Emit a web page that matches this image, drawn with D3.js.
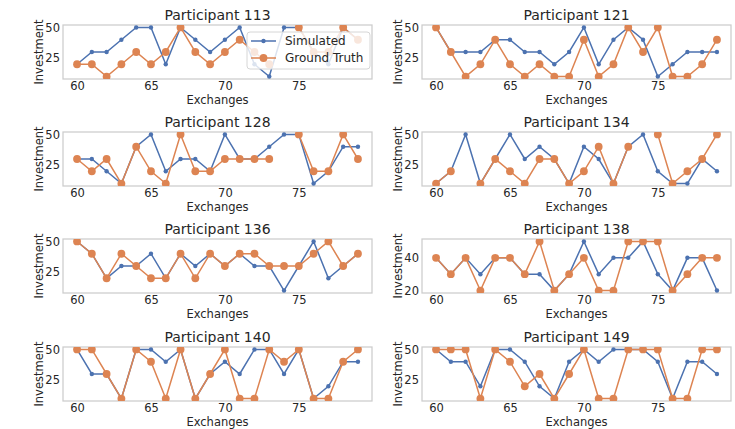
<!DOCTYPE html>
<html>
<head>
<meta charset="utf-8">
<script src="https://cdn.jsdelivr.net/npm/d3@7"></script>
<style>
  body { margin: 0; background: #fff; }
  text { font-family: "DejaVu Sans", sans-serif; fill: #262626; }
</style>
</head>
<body>
<script>
var exchanges = [60, 61, 62, 63, 64, 65, 66, 67, 68, 69, 70, 71, 72, 73, 74, 75, 76, 77, 78, 79];
var xTicks = [60, 65, 70, 75];

// simulated vs ground truth investment, null = missing
var sim113 = [20, 30, 30, 40, 50, 50, 20, 50, 40, 30, 40, 50, 20, 10, 50, 50, 30, 20, 50, 40];
var gt113  = [20, 20, 10, 20, 30, 20, 30, 50, 30, 20, 30, 40, 30, 20, null, 50, 30, 30, 50, 40];
var sim121 = [50, 30, 30, 30, 40, 40, 30, 30, 20, 30, 50, 20, 40, 50, 40, 10, 20, 30, 30, 30];
var gt121  = [50, 30, 10, 20, 40, 20, 10, 20, 10, 10, 40, 10, 20, 50, 30, 50, 10, 10, 20, 40];
var sim128 = [30, 30, 20, 10, 40, 50, 20, 30, 30, 20, 50, 30, 30, 40, 50, 50, 10, 20, 40, 40];
var gt128  = [30, 20, 30, 10, 40, 20, 10, 50, 20, 20, 30, 30, 30, 30, null, 50, 20, 20, 50, 30];
var sim134 = [10, 20, 50, 10, 30, 50, 30, 40, 30, 10, 40, 30, 10, 40, 50, 20, 10, 10, 30, 20];
var gt134  = [10, 20, null, 10, 30, 20, 10, 30, 30, 10, 20, 40, 10, 40, null, 50, 10, 20, 30, 50];
var sim136 = [50, 40, 20, 30, 30, 40, 20, 40, 30, 40, 30, 40, 30, 30, 10, 30, 50, 20, 30, 40];
var gt136  = [50, 40, 20, 40, 30, 20, 20, 40, 20, 40, 30, 40, 40, 30, 30, 30, 40, 50, 30, 40];
var sim138 = [40, 30, 40, 30, 40, 40, 30, 30, 20, 30, 50, 30, 40, 40, 50, 30, 20, 40, 40, 20];
var gt138  = [40, 30, 40, 20, 40, 40, 30, 50, 20, 30, 40, 20, 20, 50, 50, 50, 20, 30, 40, 40];
var sim140 = [50, 30, 30, 10, 50, 50, 40, 50, 10, 30, 40, 30, 50, 50, 30, 50, 10, 20, 40, 40];
var gt140  = [50, 50, 30, 10, 50, 40, 10, 50, 10, 30, 50, 10, 10, 50, 40, 50, 10, 10, 40, 50];
var sim149 = [50, 40, 40, 20, 50, 50, 40, 20, 10, 40, 50, 40, 50, 50, 50, 40, 10, 40, 40, 30];
var gt149  = [50, 50, 50, 10, 50, 40, 20, 30, 10, 30, 50, 10, 10, 50, 50, 50, 10, 10, 50, 50];

var participants = ['113', '121', '128', '134', '136', '138', '140', '149'];
var simSeries = [sim113, sim121, sim128, sim134, sim136, sim138, sim140, sim149];
var gtSeries = [gt113, gt121, gt128, gt134, gt136, gt138, gt140, gt149];
var yTickSets = [[25, 50], [25, 50], [25, 50], [25, 50], [25, 50], [20, 40], [25, 50], [25, 50]];
var legendLabels = ['Simulated', 'Ground Truth'];

var width = 735, height = 429;
var blue = '#4c72b0', orange = '#dd8452';
var colLeft = [63, 422], colWidth = 309;
var rowTop = [25, 132, 239, 347], rowHeight = 54;

var svg = d3.select('body').append('svg')
    .attr('width', width)
    .attr('height', height);

function drawPanel(i) {
    var col = i % 2, row = Math.floor(i / 2);
    var left = colLeft[col], top = rowTop[row];
    var sim = simSeries[i], gt = gtSeries[i];

    var x = d3.scaleLinear().domain([59.05, 79.95]).range([left, left + colWidth]);
    var all = sim.concat(gt).filter(function (d) { return d != null; });
    var lo = d3.min(all), hi = d3.max(all), pad = (hi - lo) * 0.05;
    var y = d3.scaleLinear().domain([lo - pad, hi + pad]).range([top + rowHeight, top]);

    var g = svg.append('g');
    var clipId = 'clip' + i;
    g.append('clipPath').attr('id', clipId)
        .append('rect')
        .attr('x', left).attr('y', top)
        .attr('width', colWidth).attr('height', rowHeight);

    // frame
    g.append('rect')
        .attr('x', left).attr('y', top)
        .attr('width', colWidth).attr('height', rowHeight)
        .attr('fill', 'none')
        .attr('stroke', '#cccccc')
        .attr('stroke-width', 1.25);

    // x axis
    var xAxis = g.append('g')
        .attr('transform', 'translate(0,' + (top + rowHeight) + ')')
        .call(d3.axisBottom(x).tickValues(xTicks).tickSize(0).tickPadding(3).tickFormat(d3.format('d')));
    xAxis.select('.domain').remove();
    xAxis.selectAll('text').style('font-size', '11.5px').attr('fill', '#262626').style('font-family', '"DejaVu Sans", sans-serif');

    // y axis
    var yAxis = g.append('g')
        .attr('transform', 'translate(' + left + ',0)')
        .call(d3.axisLeft(y).tickValues(yTickSets[i]).tickSize(0).tickPadding(3));
    yAxis.select('.domain').remove();
    yAxis.selectAll('text').style('font-size', '11.5px').attr('fill', '#262626').style('font-family', '"DejaVu Sans", sans-serif');

    g.append('text')
        .attr('x', left + colWidth / 2)
        .attr('y', top - 5)
        .attr('text-anchor', 'middle')
        .style('font-size', '14px')
        .text('Participant ' + participants[i]);

    g.append('text')
        .attr('x', left + colWidth / 2)
        .attr('y', top + rowHeight + 25)
        .attr('text-anchor', 'middle')
        .style('font-size', '11.5px')
        .text('Exchanges');

    g.append('text')
        .attr('transform', 'translate(' + (left - 24) + ',' + (top + rowHeight / 2) + ') rotate(-90)')
        .attr('text-anchor', 'middle')
        .attr('dy', '0.35em')
        .style('font-size', '11.5px')
        .text('Investment');

    var plot = g.append('g').attr('clip-path', 'url(#' + clipId + ')');

    function series(values, color, r, lw) {
        var pts = exchanges.map(function (e, k) { return { x: e, y: values[k] }; });
        var line = d3.line()
            .defined(function (d) { return d.y != null; })
            .x(function (d) { return x(d.x); })
            .y(function (d) { return y(d.y); });
        plot.append('path')
            .datum(pts)
            .attr('d', line)
            .attr('fill', 'none')
            .attr('stroke', color)
            .attr('stroke-width', lw);
        plot.selectAll(null)
            .data(pts.filter(function (d) { return d.y != null; }))
            .enter().append('circle')
            .attr('cx', function (d) { return x(d.x); })
            .attr('cy', function (d) { return y(d.y); })
            .attr('r', r)
            .attr('fill', color);
    }
    series(sim, blue, 2.2, 1.5);
    series(gt, orange, 3.9, 1.5);

    if (i === 0) drawLegend(g);
}

function drawLegend(g) {
    var lx = 247, ly = 32;
    var lg = g.append('g');
    lg.append('rect')
        .attr('x', lx).attr('y', ly)
        .attr('width', 123).attr('height', 37)
        .attr('rx', 3)
        .attr('fill', '#fff').attr('fill-opacity', 0.8)
        .attr('stroke', '#d6d6d6').attr('stroke-width', 1);
    var styles = [{ color: blue, r: 2.2 }, { color: orange, r: 3.9 }];
    legendLabels.forEach(function (label, k) {
        var cy = ly + 9 + k * 17;
        lg.append('line')
            .attr('x1', lx + 4).attr('x2', lx + 29)
            .attr('y1', cy).attr('y2', cy)
            .attr('stroke', styles[k].color).attr('stroke-width', 1.5);
        lg.append('circle')
            .attr('cx', lx + 16.5).attr('cy', cy)
            .attr('r', styles[k].r)
            .attr('fill', styles[k].color);
        lg.append('text')
            .attr('x', lx + 38).attr('y', cy)
            .attr('dy', '0.35em')
            .style('font-size', '12px')
            .text(label);
    });
}

for (var i = 0; i < participants.length; i++) drawPanel(i);
</script>
</body>
</html>
